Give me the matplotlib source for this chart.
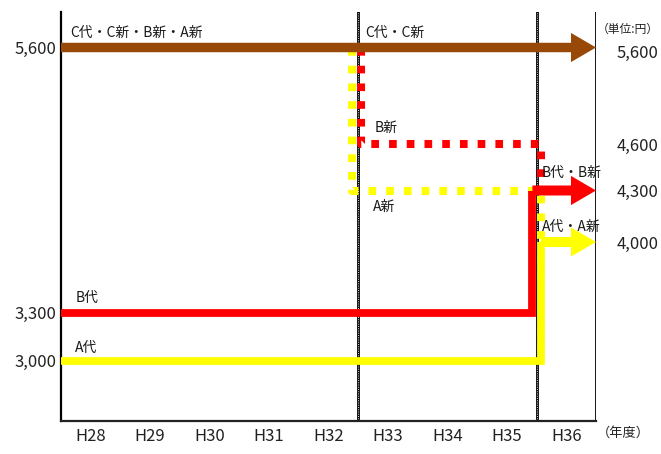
import numpy as np
import matplotlib
matplotlib.use("Agg")
import matplotlib.pyplot as plt
from matplotlib.patches import ArrowStyle

plt.rcParams['font.family'] = ['Noto Sans CJK JP', 'DejaVu Sans']

# ---------------- data ----------------
years = ["H28", "H29", "H30", "H31", "H32", "H33", "H34", "H35", "H36"]
left_ticks = [5600, 3300, 3000]
left_tick_labels = ["5,600", "3,300", "3,000"]
right_values = [5600, 4600, 4300, 4000]
right_labels = ["5,600", "4,600", "4,300", "4,000"]
period_bounds = [5, 8, 9]          # boundaries between fiscal years (H32|H33, H35|H36, end)

# stepped price paths (x in year units from start of H28, y in yen)
a_new_x = [4.9, 4.9, 8.07, 8.07]
a_new_y = [5600, 4300, 4300, 4000]
b_new_x = [5.05, 5.05, 8.07, 8.07]
b_new_y = [5600, 4600, 4600, 4300]
b_old_x = [0, 7.93, 7.93]
b_old_y = [3300, 3300, 4300]
a_old_x = [0, 8.07, 8.07]
a_old_y = [3000, 3000, 4000]
# final arrows: (start x, end x, y)
c_arrow = (0, 9, 5600)
b_arrow = (7.93, 9, 4300)
a_arrow = (8.07, 9, 4000)

# schematic (non-linear) vertical scale of the original drawing
scale_vals = [2000, 3000, 3300, 4000, 4300, 4600, 5600, 7000]
scale_pos = [-99.5, 60.5, 108.5, 179, 230.5, 277, 373.5, 510.7]

BROWN = "#984807"
RED = "#FF0000"
YELLOW = "#FFFF00"

def fwd(v):
    return np.interp(v, scale_vals, scale_pos)

def inv(p):
    return np.interp(p, scale_pos, scale_vals)

fig = plt.figure(figsize=(6.61, 4.54), dpi=100)
ax = fig.add_axes([61/661, (454-421)/454, (596-61)/661, (421-12)/454])
ax.set_yscale('function', functions=(fwd, inv))
ax.set_xlim(0, 9)
ax.set_ylim(inv(0), inv(409))

for s in ['top', 'right']:
    ax.spines[s].set_visible(False)
ax.spines['left'].set_linewidth(1.6)
ax.spines['left'].set_color('black')
ax.spines['bottom'].set_linewidth(1.6)
ax.spines['bottom'].set_color('#222222')

ax.set_xticks(np.arange(len(years)) + 0.5)
ax.set_xticklabels(years, fontsize=12, color='#222222')
ax.set_yticks(left_ticks)
ax.set_yticklabels(left_tick_labels, fontsize=12, color='#222222')
ax.yaxis.set_minor_locator(matplotlib.ticker.NullLocator())
ax.tick_params(axis='x', length=0, pad=5)
ax.tick_params(axis='y', length=0, pad=3)

# period boundary dashed lines
for xb in period_bounds:
    ax.axvline(xb, color='black', lw=2.0, zorder=1)
    ax.axvline(xb, color='white', lw=0.6, ls=(0, (1.2, 1.5)), zorder=1.1)

# dotted "new" price paths
dot_lw = 5.8
ax.plot(a_new_x, a_new_y, color=YELLOW, lw=dot_lw, ls=(0, (0.95, 1.25)),
        dash_capstyle='butt', zorder=2)
ax.plot(b_new_x, b_new_y, color=RED, lw=dot_lw, ls=(0, (0.95, 1.25)),
        dash_capstyle='butt', zorder=2.1)

# solid "old" price paths
ax.plot(a_old_x, a_old_y, color=YELLOW, lw=5.6, solid_joinstyle='miter',
        solid_capstyle='butt', zorder=3)
ax.plot(b_old_x, b_old_y, color=RED, lw=5.6, solid_joinstyle='miter',
        solid_capstyle='butt', zorder=3.1)

def arrow(spec, color, tail):
    x0, x1, y = spec
    ax.annotate('', xy=(x1, y), xytext=(x0, y), xycoords='data',
                arrowprops=dict(arrowstyle=ArrowStyle.Simple(head_length=1.8, head_width=2.1,
                                                             tail_width=tail),
                                color=color, lw=0, shrinkA=0, shrinkB=0,
                                mutation_scale=10), zorder=4, annotation_clip=False)

arrow(a_arrow, YELLOW, 0.72)
arrow(b_arrow, RED, 0.72)
arrow(c_arrow, BROWN, 0.68)

# line labels
def lab(txt, x, y, dy):
    ax.annotate(txt, xy=(x, y), xytext=(0, dy), textcoords='offset points',
                ha='left', va='center', fontsize=10, color='#1a1a1a', zorder=5,
                annotation_clip=False)

lab("C代・C新・B新・A新", 0.15, 5600, 10.4)
lab("C代・C新", 5.11, 5600, 10.4)
lab("B新", 5.28, 4600, 11.5)
lab("A新", 5.25, 4300, -11.9)
lab("B代・B新", 8.09, 4300, 12.6)
lab("A代・A新", 8.09, 4000, 10.8)
lab("B代", 0.24, 3300, 10.4)
lab("A代", 0.24, 3000, 9.0)

# right-hand value labels
ytr = ax.get_yaxis_transform()
for v, t in zip(right_values, right_labels):
    dy = -4 if v == 5600 else -1.5
    ax.annotate(t, xy=(1.039, v), xycoords=ytr, xytext=(0, dy), textcoords='offset points',
                ha='left', va='center', fontsize=12, color='#222222', annotation_clip=False)

fig.text(659 / 661, 1 - 29 / 454, "（単位:円）",
         ha='right', va='center', fontsize=8.5, color='#222222')
ax.text(1.002, -(433 - 421) / 409, "（年度）", transform=ax.transAxes,
        ha='left', va='center', fontsize=9.5, color='#222222')

fig.savefig("out.png", dpi=100)
